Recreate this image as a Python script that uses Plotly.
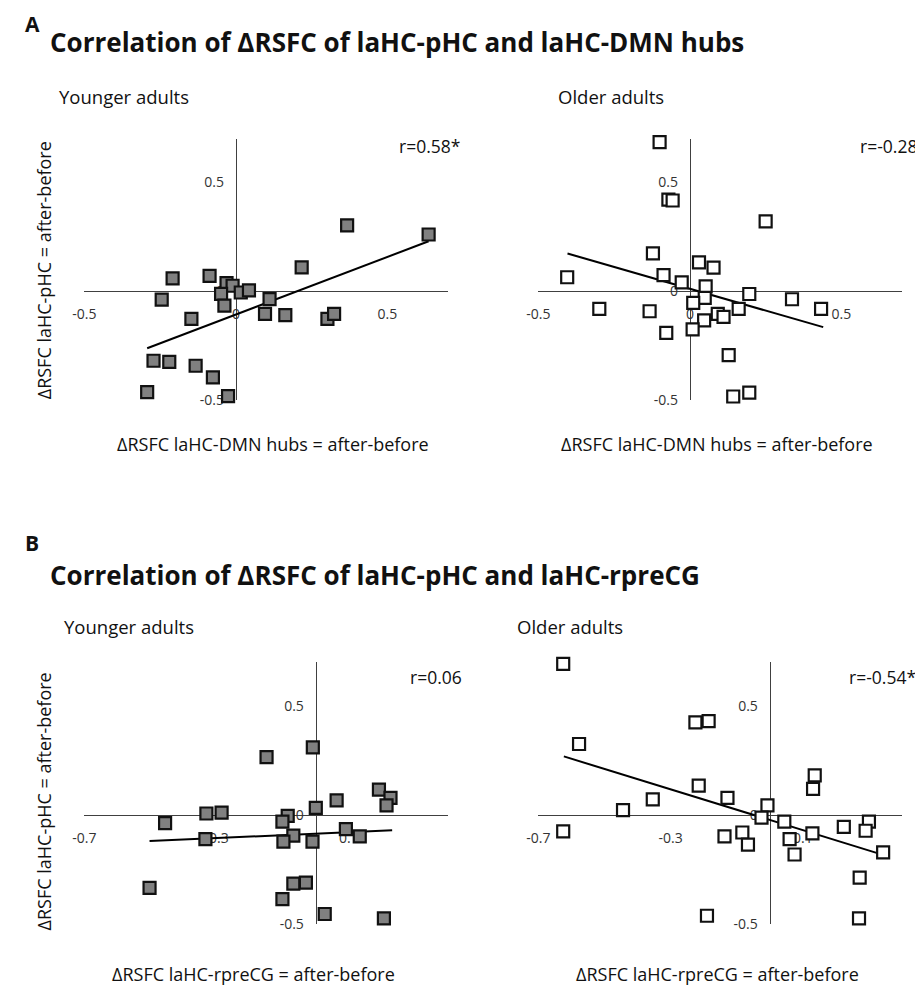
import plotly.graph_objects as go

# ---- data ----
# Panel A: dRSFC laHC-DMN hubs (x) vs dRSFC laHC-pHC (y)
a_young_x = [0.367, 0.636, 0.217, -0.209, -0.087, -0.031, -0.011, -0.049, 0.016, 0.043,
             -0.245, -0.038, 0.111, -0.147, 0.096, 0.163, 0.302, 0.324, -0.272, -0.220,
             -0.133, -0.076, -0.293, -0.026]
a_young_y = [0.303, 0.261, 0.110, 0.060, 0.071, 0.038, 0.026, -0.011, -0.005, 0.005,
             -0.038, -0.065, -0.035, -0.126, -0.103, -0.109, -0.126, -0.103, -0.318, -0.323,
             -0.341, -0.394, -0.462, -0.480]
a_young_fit_x = [-0.293, 0.636]
a_young_fit_y = [-0.261, 0.230]

a_old_x = [-0.100, -0.071, -0.057, 0.250, -0.122, 0.030, 0.078, -0.405, -0.087, -0.027,
           0.052, 0.196, 0.337, 0.049, 0.011, -0.299, -0.133, 0.161, 0.433, 0.092,
           0.111, 0.047, 0.009, -0.078, 0.128, 0.143, 0.196]
a_old_y = [0.685, 0.421, 0.417, 0.321, 0.174, 0.133, 0.109, 0.065, 0.075, 0.041,
           0.023, -0.012, -0.036, -0.030, -0.053, -0.080, -0.091, -0.080, -0.080, -0.103,
           -0.117, -0.133, -0.174, -0.190, -0.292, -0.482, -0.464]
a_old_fit_x = [-0.404, 0.440]
a_old_fit_y = [0.174, -0.164]

# Panel B: dRSFC laHC-rpreCG (x) vs dRSFC laHC-pHC (y)
b_young_x = [-0.009, -0.149, 0.191, 0.226, 0.214, 0.063, 0.000, -0.331, -0.285, -0.085,
             -0.101, -0.456, 0.091, 0.133, -0.334, -0.068, -0.098, -0.010, -0.503, -0.068,
             -0.030, -0.101, 0.027, 0.206]
b_young_y = [0.308, 0.264, 0.115, 0.077, 0.042, 0.065, 0.031, 0.005, 0.009, -0.006,
             -0.032, -0.039, -0.067, -0.100, -0.112, -0.096, -0.124, -0.124, -0.336, -0.317,
             -0.312, -0.388, -0.456, -0.476]
b_young_fit_x = [-0.503, 0.231]
b_young_fit_y = [-0.121, -0.072]

b_old_x = [-0.625, -0.225, -0.185, -0.577, 0.136, 0.131, -0.215, -0.128, -0.354, -0.444,
           -0.007, -0.025, 0.044, 0.300, 0.224, 0.290, 0.129, -0.625, -0.137, -0.083,
           -0.066, 0.060, 0.075, 0.343, 0.272, -0.190, 0.270]
b_old_y = [0.691, 0.423, 0.429, 0.324, 0.180, 0.118, 0.133, 0.077, 0.070, 0.021,
           0.042, -0.014, -0.032, -0.032, -0.056, -0.074, -0.086, -0.077, -0.100, -0.082,
           -0.138, -0.112, -0.183, -0.173, -0.289, -0.464, -0.476]
b_old_fit_x = [-0.623, 0.350]
b_old_fit_y = [0.267, -0.188]

r_labels = ["r=0.58*", "r=-0.28", "r=0.06", "r=-0.54*"]
a_xticks = [-0.5, 0, 0.5]
b_xticks = [-0.7, -0.3, 0.1]
yticks = [-0.5, 0, 0.5]

FONT = "Open Sans"
# the page body has an 8px margin, so the figure is 8px smaller and everything
# below is given in page pixels and shifted back by OFF
OFF = 8
W, H = 923 - OFF, 1000 - OFF


def px2x(px):
    return (px - OFF) / W


def py2y(py):
    return 1 - (py - OFF) / H


# panel geometry in page pixels
panels = [
    dict(x=a_young_x, y=a_young_y, fx=a_young_fit_x, fy=a_young_fit_y, fill="#808080",
         xr=[-0.5, 0.7], xt=a_xticks, px=(73.3, 441.7), py=(140, 404)),
    dict(x=a_old_x, y=a_old_y, fx=a_old_fit_x, fy=a_old_fit_y, fill="white",
         xr=[-0.5, 0.7], xt=a_xticks, px=(533.3, 901.7), py=(140, 404)),
    dict(x=b_young_x, y=b_young_y, fx=b_young_fit_x, fy=b_young_fit_y, fill="#808080",
         xr=[-0.7, 0.4], xt=b_xticks, px=(73.3, 441.7), py=(668, 932)),
    dict(x=b_old_x, y=b_old_y, fx=b_old_fit_x, fy=b_old_fit_y, fill="white",
         xr=[-0.7, 0.4], xt=b_xticks, px=(533.3, 901.7), py=(668, 932)),
]
yr = [-0.5, 0.7]

fig = go.Figure()
layout = {}
for i, p in enumerate(panels):
    n = "" if i == 0 else str(i + 1)
    xd = [px2x(p["px"][0]), px2x(p["px"][1])]
    yd = [py2y(p["py"][1]), py2y(p["py"][0])]
    # put the axis lines through the origin
    xpos = yd[0] + (0 - yr[0]) / (yr[1] - yr[0]) * (yd[1] - yd[0])
    ypos = xd[0] + (0 - p["xr"][0]) / (p["xr"][1] - p["xr"][0]) * (xd[1] - xd[0])
    axis_style = dict(showgrid=False, zeroline=False, showline=True, linecolor="#404040",
                      linewidth=1.3, ticks="", layer="below traces",
                      tickfont=dict(family=FONT, size=14, color="#333333"))
    layout["xaxis" + n] = dict(domain=xd, range=p["xr"], anchor="free", position=xpos,
                               tickvals=p["xt"], ticktext=[f"{v:g}" for v in p["xt"]],
                               ticklabelstandoff=10, **axis_style)
    layout["yaxis" + n] = dict(domain=yd, range=yr, anchor="free", position=ypos,
                               tickvals=yticks, ticktext=[f"{v:g}" for v in yticks],
                               ticklabelstandoff=9, **axis_style)
    fig.add_trace(go.Scatter(x=p["fx"], y=p["fy"], mode="lines", xaxis="x" + n, yaxis="y" + n,
                             line=dict(color="black", width=2), showlegend=False, hoverinfo="skip"))
    fig.add_trace(go.Scatter(x=p["x"], y=p["y"], mode="markers", xaxis="x" + n, yaxis="y" + n,
                             cliponaxis=False, showlegend=False,
                             marker=dict(symbol="square", size=12, color=p["fill"],
                                         line=dict(color="#111111", width=2.2))))


def txt(text, px, py, size, bold=False, xanchor="left", yanchor="middle", angle=0):
    return dict(text=f"<b>{text}</b>" if bold else text, x=px2x(px), y=py2y(py),
                xref="paper", yref="paper", xanchor=xanchor, yanchor=yanchor,
                showarrow=False, textangle=angle,
                font=dict(family=FONT, size=size, color="#111111"))


annotations = [
    txt("A", 11, 8, 21, bold=True, yanchor="top"),
    txt("Correlation of ΔRSFC of laHC-pHC and laHC-DMN hubs", 36, 42, 26, bold=True),
    txt("Younger adults", 45, 97, 18.5),
    txt("Older adults", 551, 97, 18.5),
    txt("ΔRSFC laHC-pHC = after-before", 32, 273, 18, xanchor="center", angle=-90),
    txt("ΔRSFC laHC-DMN hubs = after-before", 264, 448, 18, xanchor="center"),
    txt("ΔRSFC laHC-DMN hubs = after-before", 714, 448, 18, xanchor="center"),
    txt(r_labels[0], 456, 147, 17.5, xanchor="right"),
    txt(r_labels[1], 919, 147, 17.5, xanchor="right"),
    txt("B", 11, 548, 21, bold=True),
    txt("Correlation of ΔRSFC of laHC-pHC and laHC-rpreCG", 36, 580, 26, bold=True),
    txt("Younger adults", 51, 632, 18.5),
    txt("Older adults", 510, 632, 18.5),
    txt("ΔRSFC laHC-pHC = after-before", 32, 809, 18, xanchor="center", angle=-90),
    txt("ΔRSFC laHC-rpreCG = after-before", 245, 983, 18, xanchor="center"),
    txt("ΔRSFC laHC-rpreCG = after-before", 715, 983, 18, xanchor="center"),
    txt(r_labels[2], 458, 683, 17.5, xanchor="right"),
    txt(r_labels[3], 918, 683, 17.5, xanchor="right"),
]

fig.update_layout(
    width=W, height=H,
    margin=dict(l=0, r=0, t=0, b=0),
    plot_bgcolor="white", paper_bgcolor="white",
    annotations=annotations,
    **layout
)

fig.write_html("out.html")
